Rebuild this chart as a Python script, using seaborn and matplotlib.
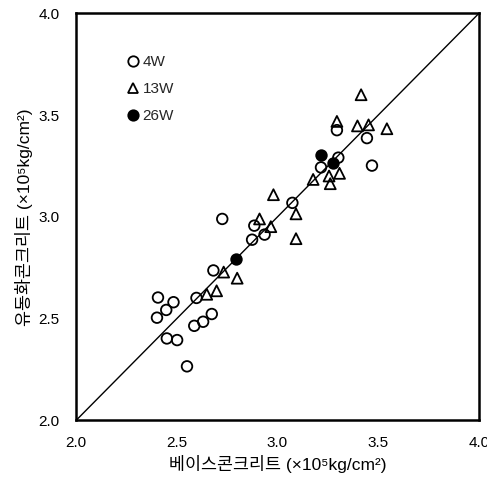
import matplotlib
matplotlib.use("Agg")
import matplotlib.pyplot as plt
import seaborn as sns
import pandas as pd
from matplotlib.lines import Line2D

# ---- data ----
w4_base = [3.295, 3.444, 3.469, 3.302, 3.216, 3.074, 2.726, 2.885, 2.874, 2.936,
           2.682, 2.598, 2.407, 2.484, 2.448, 2.402, 2.674, 2.631, 2.587, 2.451,
           2.502, 2.551]
w4_flow = [3.426, 3.387, 3.252, 3.291, 3.243, 3.069, 2.990, 2.957, 2.888, 2.913,
           2.737, 2.602, 2.604, 2.581, 2.543, 2.505, 2.523, 2.485, 2.465, 2.403,
           2.395, 2.266]
w13_base = [3.415, 3.295, 3.397, 3.452, 3.543, 3.308, 3.256, 3.262, 3.177, 2.980,
            2.911, 3.092, 2.967, 3.092, 2.733, 2.800, 2.649, 2.698]
w13_flow = [3.600, 3.469, 3.447, 3.452, 3.433, 3.214, 3.201, 3.163, 3.184, 3.109,
            2.990, 3.015, 2.952, 2.893, 2.729, 2.699, 2.620, 2.637]
w26_base = [3.216, 3.275, 2.795]
w26_flow = [3.306, 3.263, 2.793]

groups = ["4W", "13W", "26W"]
ticks = [2.0, 2.5, 3.0, 3.5, 4.0]
tick_labels = ["2.0", "2.5", "3.0", "3.5", "4.0"]
xlabel = "베이스콘크리트 (×10⁵kg/cm²)"
ylabel = "유동화콘크리트 (×10⁵kg/cm²)"

df = pd.concat([
    pd.DataFrame({"base": w4_base, "flow": w4_flow, "group": "4W"}),
    pd.DataFrame({"base": w13_base, "flow": w13_flow, "group": "13W"}),
    pd.DataFrame({"base": w26_base, "flow": w26_flow, "group": "26W"}),
])

sns.set_theme(style="white")
plt.rcParams["font.family"] = ["Liberation Sans", "Noto Sans CJK KR", "DejaVu Sans"]

fig = plt.figure(figsize=(4.87, 4.82), dpi=100)
ax = fig.add_axes([0.156, 0.1276, 0.8275, 0.8448])

ax.axline((2.0, 2.0), slope=1, color="black", lw=1.0, zorder=1)

styles = {
    "4W": dict(marker="o", s=58, facecolor="none", edgecolor="black", linewidth=1.3),
    "13W": dict(marker="^", s=62, facecolor="none", edgecolor="black", linewidth=1.3),
    "26W": dict(marker="o", s=58, facecolor="black", edgecolor="black", linewidth=1.3),
}
for g in groups:
    sub = df[df["group"] == g]
    sns.scatterplot(data=sub, x="base", y="flow", ax=ax, legend=False, zorder=3, **styles[g])

ax.set_xlim(2.0, 4.0)
ax.set_ylim(2.0, 4.0)
ax.set_xticks(ticks)
ax.set_yticks(ticks)
ax.set_xticklabels(tick_labels, fontsize=11)
ax.set_yticklabels(tick_labels, fontsize=11)
ax.tick_params(direction="in", length=4, width=1.2, color="black", labelcolor="black")
ax.tick_params(axis="x", pad=11)
ax.tick_params(axis="y", pad=12)
for sp in ax.spines.values():
    sp.set_color("black")
    sp.set_linewidth(1.8)

ax.set_xlabel(xlabel, fontsize=12.5, color="black", labelpad=4)
ax.set_ylabel(ylabel, fontsize=12.5, color="black", labelpad=4)

handles = [
    Line2D([], [], ls="none", marker="o", ms=7.5, mfc="none", mec="black", mew=1.3),
    Line2D([], [], ls="none", marker="^", ms=7.5, mfc="none", mec="black", mew=1.3),
    Line2D([], [], ls="none", marker="o", ms=7.5, mfc="black", mec="black", mew=1.3),
]
ax.legend(handles, groups, loc="upper left", bbox_to_anchor=(0.097, 0.923), frameon=False,
          fontsize=11, handletextpad=0.1, labelspacing=0.85, handlelength=1.0,
          borderaxespad=0.3)

fig.savefig("out.png", dpi=100)
